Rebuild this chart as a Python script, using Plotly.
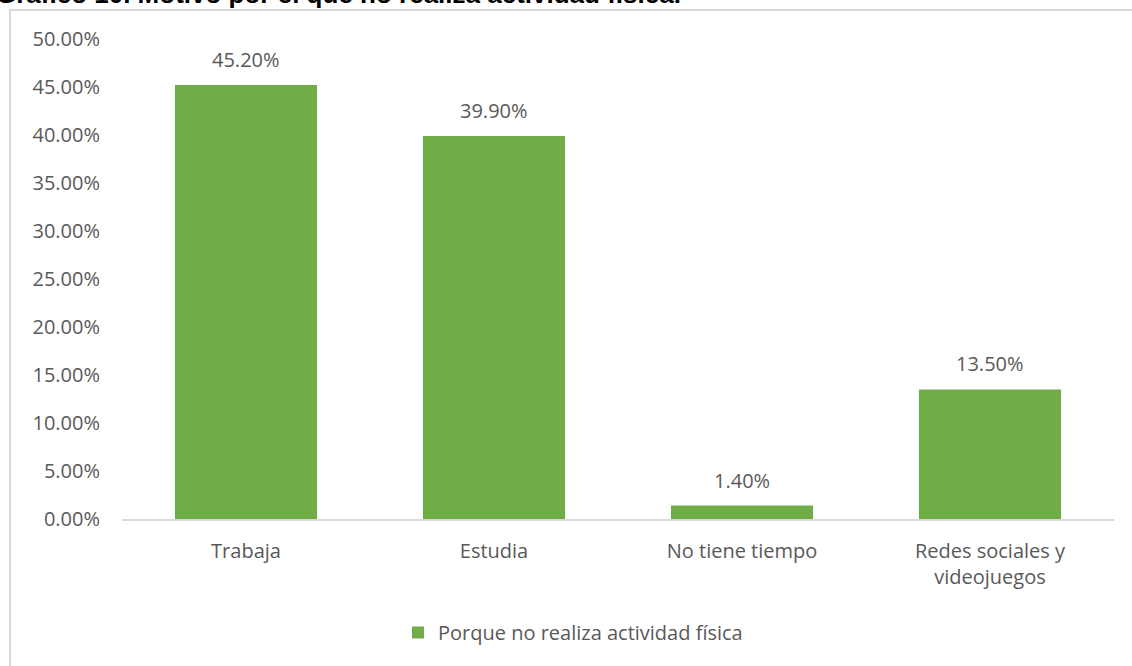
import plotly.graph_objects as go

categories = ["Trabaja", "Estudia", "No tiene tiempo", "Redes sociales y<br>videojuegos"]
values = [45.20, 39.90, 1.40, 13.50]
tick_values = [0, 5, 10, 15, 20, 25, 30, 35, 40, 45, 50]
tick_labels = [f"{v:.2f}%" for v in tick_values]
series_name = "Porque no realiza actividad física"
title_text = "Gráfico 10. Motivo por el que no realiza actividad física."

W, H = 1132, 666
ML, MR, MT, MB = 122, 18, 39, 147
PW, PH = W - ML - MR, H - MT - MB

GREEN = "#70AD47"
GREY_TEXT = "#595959"
LINE = "#D9D9D9"
FONT = "Open Sans"
FS = 20


def px_to_paper_x(px):
    return (px - ML) / PW


def px_to_paper_y(py):
    return (H - MB - py) / PH


fig = go.Figure()
fig.add_trace(go.Bar(
    x=categories,
    y=values,
    name=series_name,
    marker=dict(color=GREEN, line=dict(width=0)),
    width=0.573,
    showlegend=True,
))

# value labels above each bar
for cat, val in zip(categories, values):
    fig.add_annotation(
        x=cat, y=val, xref="x", yref="y",
        text=f"{val:.2f}%", showarrow=False,
        yanchor="bottom", yshift=10,
        font=dict(family=FONT, size=FS, color=GREY_TEXT),
    )

# outer chart frame
fig.add_shape(
    type="rect", xref="paper", yref="paper",
    x0=px_to_paper_x(10), x1=px_to_paper_x(W + 20),
    y0=px_to_paper_y(H + 20), y1=px_to_paper_y(10),
    line=dict(color=LINE, width=2), fillcolor="rgba(0,0,0,0)", layer="below",
)

# caption above the frame
fig.add_annotation(
    text=f"<b>{title_text}</b>",
    xref="paper", yref="paper",
    x=px_to_paper_x(683), y=px_to_paper_y(11),
    xanchor="right", yanchor="bottom",
    showarrow=False,
    font=dict(family="Liberation Sans", size=26, color="#000000"),
)

fig.update_layout(
    width=W, height=H,
    margin=dict(l=ML, r=MR, t=MT, b=MB, pad=0),
    paper_bgcolor="white", plot_bgcolor="white",
    font=dict(family=FONT, color=GREY_TEXT, size=FS),
    bargap=0.427,
    legend=dict(
        orientation="h", x=px_to_paper_x(398), xanchor="left",
        y=px_to_paper_y(613), yanchor="top",
        font=dict(family=FONT, size=FS, color=GREY_TEXT),
        itemwidth=30,
    ),
    xaxis=dict(
        showline=True, linecolor=LINE, linewidth=2,
        ticks="", showgrid=False,
        tickfont=dict(family=FONT, size=FS, color=GREY_TEXT),
        ticklabelstandoff=13,
    ),
    yaxis=dict(
        range=[0, 50], tickvals=tick_values, ticktext=tick_labels,
        showgrid=False, zeroline=False, showline=False, ticks="",
        tickfont=dict(family=FONT, size=FS, color=GREY_TEXT),
        ticklabelstandoff=21,
    ),
)

fig.write_html("out.html")
